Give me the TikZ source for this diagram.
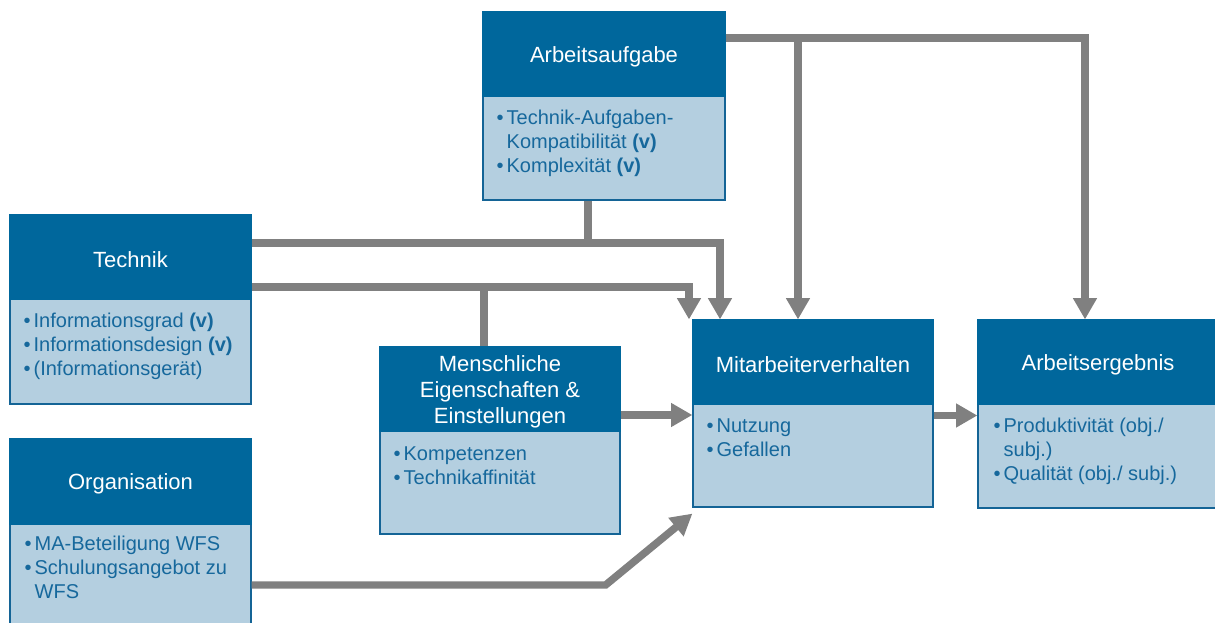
\documentclass[tikz,border=0pt]{standalone}
\usepackage{fontspec}
\setmainfont{Liberation Sans}
\usetikzlibrary{calc,fit,arrows.meta}
\definecolor{hdrblue}{RGB}{0,103,156}
\definecolor{bodyblue}{RGB}{180,207,224}
\definecolor{txtblue}{RGB}{22,104,156}
\definecolor{edgeblue}{RGB}{20,100,150}
\definecolor{conngray}{RGB}{128,128,128}
\newcommand{\bul}{\makebox[7.5pt][l]{\textbullet}}
\newcommand{\cont}{\hspace*{7.5pt}}
\newcommand{\firststrut}{\rule{0pt}{12pt}}
\begin{document}
\begin{tikzpicture}[x=0.75pt,y=-0.75pt,
 hdr/.style={fill=hdrblue, draw=hdrblue, line width=0.8pt, inner sep=0pt},
 hdrtxt/.style={inner sep=0pt, text=white, font=\fontsize{16.5}{19.5}\selectfont, align=center, yshift=-2pt},
 bdy/.style={fill=bodyblue, draw=edgeblue, line width=0.9pt, inner sep=0pt},
 btxt/.style={anchor=north west, inner sep=0pt, text=txtblue, font=\fontsize{15}{18}\selectfont, align=left},
 conn/.style={draw=conngray, line width=5.6pt, -{Triangle[length=16pt,width=17pt]}},
 link/.style={draw=conngray, line width=5.6pt}]
\clip (0,0) rectangle (1215,623);

% Boxes
\node[bdy, fit={(483,96) (725,200)}] (aufB) {};
\node[hdr, fit={(483,12) (725,96)}] (aufH) {};
\node[bdy, fit={(10,299) (251,404)}] (tecB) {};
\node[hdr, fit={(10,215) (251,299)}] (tecH) {};
\node[bdy, fit={(10,524) (251,628)}] (orgB) {};
\node[hdr, fit={(10,439) (251,524)}] (orgH) {};
\node[bdy, fit={(380,431) (620,534)}] (menB) {};
\node[hdr, fit={(380,347) (620,431)}] (menH) {};
\node[bdy, fit={(693,404) (933,507)}] (mitB) {};
\node[hdr, fit={(693,320) (933,404)}] (mitH) {};
\node[bdy, fit={(978,404) (1218,508)}] (ergB) {};
\node[hdr, fit={(978,320) (1218,404)}] (ergH) {};

% Header texts
\node[hdrtxt] (aufL) at (aufH.center) {Arbeitsaufgabe};
\node[hdrtxt] (tecL) at (tecH.center) {Technik};
\node[hdrtxt] (orgL) at (orgH.center) {Organisation};
\node[hdrtxt] (menL) at (menH.center) {Menschliche\\Eigenschaften \&\\Einstellungen};
\node[hdrtxt] (mitL) at (mitH.center) {Mitarbeiterverhalten};
\node[hdrtxt] (ergL) at (ergH.center) {Arbeitsergebnis};

% Body texts
\node[btxt] (aufT) at ($(aufB.north west)+(14,13)$) {\firststrut\bul Technik-Aufgaben-\\\cont Kompatibilität \textbf{(v)}\\\bul Komplexität \textbf{(v)}};
\node[btxt] (tecT) at ($(tecB.north west)+(14,13)$) {\firststrut\bul Informationsgrad \textbf{(v)}\\\bul Informationsdesign \textbf{(v)}\\\bul (Informationsgerät)};
\node[btxt] (orgT) at ($(orgB.north west)+(15,11)$) {\firststrut\bul MA-Beteiligung WFS\\\bul Schulungsangebot zu\\\cont WFS};
\node[btxt] (menT) at ($(menB.north west)+(14,14)$) {\firststrut\bul Kompetenzen\\\bul Technikaffinität};
\node[btxt] (mitT) at ($(mitB.north west)+(14,13)$) {\firststrut\bul Nutzung\\\bul Gefallen};
\node[btxt] (ergT) at ($(ergB.north west)+(16,13)$) {\firststrut\bul Produktivität (obj./\\\cont subj.)\\\bul Qualität (obj./ subj.)};

% Connector coordinates
\coordinate (a1) at ($(aufH.east)+(0,-16)$);
\coordinate (e1) at ($(ergH.north)+(-13,0)$);
\coordinate (mA) at ($(mitH.north)+(-15,0)$);
\coordinate (mB) at ($(mitH.north)+(-93,0)$);
\coordinate (mC) at ($(mitH.north)+(-124,0)$);
\coordinate (t1) at ($(tecH.east)+(0,-14)$);
\coordinate (t2) at ($(tecH.east)+(0,30)$);
\coordinate (b1) at ($(aufB.south)+(-16,0)$);
\coordinate (n1) at ($(menH.north)+(-16,0)$);
\coordinate (h1) at ($(menH.east)+(0,26)$);
\coordinate (h2) at ($(mitB.east)+(0,-40)$);
\coordinate (o1) at ($(orgB.east)+(0,9)$);
\coordinate (o2) at ($(o1)+(354,0)$);
\coordinate (o3) at ($(mitB.south west)+(0,6)$);

% Connectors
\draw[conn] (a1) -| (e1);
\draw[conn] (a1 -| mA) -- (mA);
\draw[conn] (t1) -| (mB);
\draw[link] (b1) -- (b1 |- t1);
\draw[conn] (t2) -| (mC);
\draw[link] (t2 -| n1) -- (n1);
\draw[conn] (h1) -- (h1 -| mitB.west);
\draw[conn] (h2) -- (h2 -| ergB.west);
\draw[conn] (o1) -- (o2) -- (o3);
\end{tikzpicture}
\end{document}
